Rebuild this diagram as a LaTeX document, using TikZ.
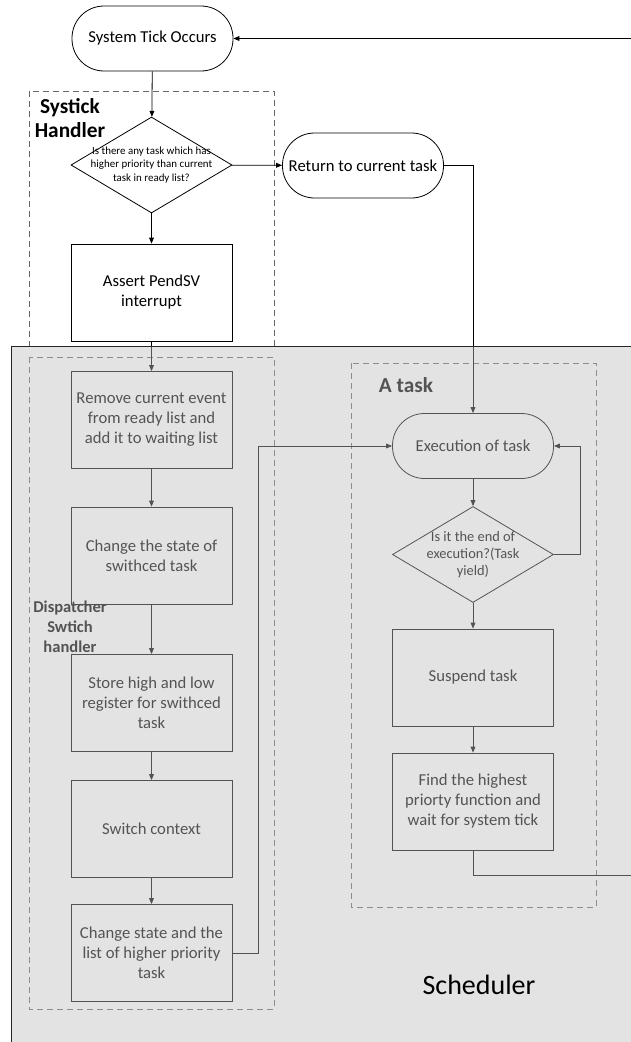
\documentclass[tikz,border=0pt]{standalone}
\usepackage{fontspec}
\setmainfont{Carlito}
\usepackage{tikz}
\usetikzlibrary{shapes.geometric}
\usetikzlibrary{arrows.meta}
\usetikzlibrary{positioning}

\newcommand{\boxfont}{\fontsize{12.5pt}{15pt}\selectfont}
\newcommand{\askfont}{\fontsize{8.2pt}{10pt}\selectfont}
\newcommand{\yieldfont}{\fontsize{10.8pt}{12.5pt}\selectfont}
\newcommand{\groupfont}{\fontsize{16pt}{18pt}\selectfont\bfseries}

\begin{document}
\begin{tikzpicture}[
  x=0.75pt, y=-0.75pt,
  line width=0.6pt,
  terminal/.style={draw,rectangle,rounded corners=24pt,minimum width=120.75pt,minimum height=48.75pt,font=\boxfont,align=center,inner sep=1pt},
  process/.style={draw,rectangle,minimum width=120.75pt,minimum height=72.75pt,font=\boxfont,align=center},
  decision/.style={draw,diamond,minimum width=120.75pt,minimum height=72pt,inner sep=0pt},
  group/.style={draw=black!60,dashed,dash pattern=on 4.5pt off 3pt},
  grouplabel/.style={font=\groupfont,align=center,inner sep=0pt},
  flow/.style={-{Triangle[length=4.5pt,width=3.6pt]}}
]
\useasboundingbox (0,0) rectangle (631,1042);

% handler frames
\draw[group] (29,91) rectangle (274,346);
\draw[group] (29,357) rectangle (274,1009);
\draw[group] (351,363) rectangle (596,907);
\node[grouplabel] (systick) at (70,118) {Systick\\Handler};
\node[grouplabel,font=\fontsize{12.4pt}{15pt}\selectfont\bfseries] (dispatch) at (70,627) {Dispatcher\\Swtich\\handler};
\node[grouplabel] (atask) at (406,385) {A task};

% systick side
\node[terminal] (tick) at (152.5,38.5) {System Tick Occurs};
\node[decision,label={[font=\askfont,align=center]center:Is there any task which has\\higher priority than current\\task in ready list?}] (anyhigher) at (151.5,165) {};
\node[terminal] (ret) at (363,165.5) {Return to current task};
\node[process] (assert) at (151.5,292.5) {Assert PendSV\\interrupt};

% dispatcher
\node[process] (remove) at (151.5,420) {Remove current event\\from ready list and\\add it to waiting list};
\node[process] (chstate) at (151.5,555.5) {Change the state of\\swithced task};
\node[process] (store) at (151.5,703) {Store high and low\\register for swithced\\task};
\node[process] (switch) at (151.5,829) {Switch context};
\node[process] (chlist) at (151.5,953) {Change state and the\\list of higher priority\\task};

% task
\node[terminal] (exec) at (473,446) {Execution of task};
\node[decision,label={[font=\yieldfont,align=center]center:Is it the end of\\execution?(Task\\yield)}] (isend) at (473,554.5) {};
\node[process] (suspend) at (473,677.5) {Suspend task};
\node[process] (find) at (473,801.5) {Find the highest\\priorty function and\\wait for system tick};

\coordinate (loopdown) at (636,875);
\coordinate (loopup) at (636,38.5);

\draw[flow] (tick) -- (anyhigher);
\draw[flow] (anyhigher) -- (ret);
\draw[flow] (anyhigher) -- (assert);
\draw[flow] (ret.east) -| (exec.north);
\draw[flow] (assert) -- (remove);
\draw[flow] (remove) -- (chstate);
\draw[flow] (chstate) -- (store);
\draw[flow] (store) -- (switch);
\draw[flow] (switch) -- (chlist);
\draw[flow] (chlist.east) -- ++(26,0) |- (exec.west);
\draw[flow] (exec) -- (isend);
\draw[flow] (isend.east) -- ++(26,0) |- (exec.east);
\draw[flow] (isend) -- (suspend);
\draw[flow] (suspend) -- (find);
\draw[flow] (find.south) |- (loopdown) -- (loopup) -- (tick.east);

% scheduler area
\fill[black!25,fill opacity=0.44] (11,346) rectangle (640,1050);
\draw[black!85] (640,346) -- (11,346) -- (11,1050);
\node[font=\fontsize{21pt}{25pt}\selectfont] (sched) at (479,985) {Scheduler};
\end{tikzpicture}
\end{document}
